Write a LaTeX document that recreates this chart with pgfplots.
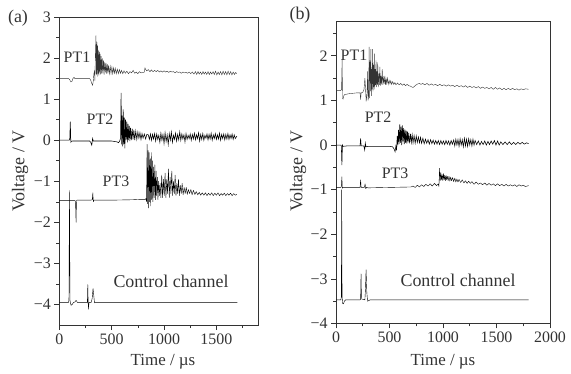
\documentclass[border=0pt]{standalone}
\usepackage{pgfplots}
\pgfplotsset{compat=1.18}
\usepackage{fontspec}
\setmainfont{Liberation Serif}
\definecolor{ink}{HTML}{333333}
\pgfplotsset{
  myax/.style={
    scale only axis, anchor=south west,
    axis line style={ink, line width=0.6pt},
    every tick/.style={ink, line width=0.6pt},
    tick align=outside, tick pos=left,
    major tick length=5bp, minor tick length=3bp,
    ticklabel style={font=\fontsize{16}{16}\selectfont, text=ink},
    cycle list={{ink, line width=0.55pt, line join=round, no marks}},
    clip=true,
  },
}
\tikzset{lab/.style={font=\fontsize{16}{16}\selectfont, text=ink}}
\begin{document}
\begin{tikzpicture}
\useasboundingbox (0,0) rectangle (571bp,374bp);
% ---------------- panel (a)
\begin{axis}[myax, at={(59.3bp,49bp)}, width=199bp, height=308bp,
  xmin=0, xmax=1900, ymin=-4.5, ymax=3,
  xtick={0,500,1000,1500}, xticklabels={0,500,1000,1500},
  minor xtick={250,750,1250,1750},
  ytick={-4,-3,-2,-1,0,1,2,3}, yticklabels={−4,−3,−2,−1,0,1,2,3},
  minor ytick={-3.5,-2.5,-1.5,-0.5,0.5,1.5,2.5}]
% PT1
\addplot coordinates {(0,1.5)(90,1.5)(100,1.47)(110,1.42)(120,1.43)(130,1.5)(140,1.53)(150,1.5)(200,1.5)(260,1.5)(290,1.5)(300,1.46)(310,1.38)(318,1.34)(325,1.45)(330,1.62)(336,1.68)(340,1.45)(345,2.1)(350,2.55)(354,1.6)(358,2.4)(362,1.55)(366,2.3)(370,1.62)(374,2.2)(378,1.58)(382,2.15)(386,1.65)(390,2.1)(395,1.6)(400,2.05)(405,1.62)(410,2.0)(416,1.63)(422,1.95)(428,1.6)(434,1.9)(440,1.65)(446,1.88)(452,1.62)(458,1.85)(464,1.63)(470,1.82)(478,1.62)(486,1.8)(494,1.63)(502,1.78)(510,1.62)(518,1.76)(526,1.63)(534,1.75)(544,1.62)(554,1.73)(564,1.62)(574,1.72)(584,1.63)(594,1.7)(606,1.62)(618,1.69)(630,1.63)(645,1.68)(660,1.62)(675,1.67)(690,1.64)(705,1.7)(720,1.63)(735,1.66)(750,1.62)(765,1.67)(780,1.64)(800,1.65)(812,1.66)(818,1.76)(825,1.72)(835,1.69)(850,1.72)(865,1.67)(880,1.71)(895,1.67)(910,1.7)(925,1.67)(940,1.7)(955,1.66)(970,1.69)(985,1.66)(1000,1.69)(1015,1.66)(1030,1.68)(1045,1.65)(1060,1.68)(1075,1.66)(1090,1.67)(1105,1.64)(1120,1.67)(1135,1.65)(1150,1.66)(1165,1.63)(1180,1.66)(1195,1.64)(1210,1.65)(1225,1.63)(1240,1.66)(1255,1.62)(1270,1.66)(1285,1.61)(1300,1.67)(1312,1.6)(1324,1.67)(1336,1.61)(1348,1.66)(1360,1.6)(1372,1.67)(1384,1.61)(1396,1.66)(1408,1.6)(1420,1.67)(1432,1.6)(1444,1.66)(1456,1.61)(1468,1.67)(1480,1.6)(1492,1.68)(1504,1.59)(1516,1.66)(1528,1.6)(1540,1.67)(1552,1.59)(1564,1.68)(1576,1.6)(1588,1.67)(1600,1.59)(1612,1.68)(1624,1.6)(1636,1.67)(1648,1.59)(1660,1.66)(1672,1.6)(1684,1.65)(1695,1.62)};
% PT2
\addplot coordinates {(0,0)(95,0)(100,0.05)(105,0.45)(110,-0.05)(115,-0.03)(125,-0.02)(200,-0.02)(290,-0.02)(300,-0.05)(310,-0.12)(318,0.04)(325,-0.02)(340,-0.02)(500,-0.02)(550,-0.04)(565,-0.06)(575,-0.03)(585,0.05)(590,1.15)(595,-0.1)(600,0.6)(605,-0.15)(610,0.75)(615,-0.1)(620,0.55)(626,-0.2)(632,0.5)(638,0.0)(644,0.45)(650,-0.05)(656,0.4)(662,0.0)(668,0.35)(674,-0.02)(680,0.3)(688,0.0)(696,0.28)(704,0.02)(712,0.25)(720,0.0)(730,0.22)(740,0.02)(750,0.2)(760,0.05)(770,0.18)(780,0.02)(790,0.16)(800,0.05)(812,0.15)(824,0.03)(836,0.14)(850,0.13)(860,0.02)(870,0.15)(880,0.0)(890,0.14)(900,0.03)(910,0.16)(920,-0.02)(930,0.15)(940,0.02)(950,0.12)(960,-0.05)(970,0.17)(980,0.0)(990,0.14)(1000,-0.08)(1010,0.18)(1020,-0.03)(1030,0.13)(1040,-0.1)(1050,0.16)(1060,0.0)(1070,0.2)(1080,-0.05)(1090,0.12)(1100,0.02)(1110,0.17)(1120,-0.02)(1130,0.14)(1140,0.01)(1150,0.2)(1160,0.0)(1170,0.15)(1180,0.03)(1190,0.13)(1200,-0.04)(1210,0.16)(1220,0.02)(1230,0.12)(1240,0.04)(1250,0.15)(1260,0.0)(1270,0.14)(1280,0.03)(1290,0.17)(1300,0.01)(1310,0.13)(1320,0.04)(1330,0.18)(1340,-0.02)(1350,0.14)(1360,0.02)(1370,0.16)(1380,0.0)(1390,0.12)(1400,0.05)(1410,0.15)(1420,0.01)(1430,0.14)(1440,0.03)(1450,0.17)(1460,0.0)(1470,0.13)(1480,0.04)(1490,0.16)(1500,0.02)(1510,0.13)(1520,0.03)(1530,0.17)(1540,0.0)(1550,0.14)(1560,0.04)(1570,0.15)(1580,0.01)(1590,0.14)(1600,0.03)(1610,0.16)(1620,0.02)(1630,0.13)(1640,0.04)(1650,0.15)(1660,0.02)(1670,0.13)(1680,0.04)(1695,0.1)};
% PT3
\addplot coordinates {(0,-1.47)(150,-1.47)(155,-1.5)(160,-2.0)(164,-1.47)(170,-1.46)(300,-1.46)(315,-1.45)(320,-1.28)(325,-1.5)(330,-1.46)(340,-1.46)(500,-1.46)(700,-1.45)(780,-1.44)(820,-1.44)(828,-1.42)(833,-1.5)(838,-0.1)(843,-1.55)(848,-0.25)(853,-1.65)(858,-0.3)(863,-1.5)(868,-0.45)(873,-1.6)(878,-0.3)(883,-1.45)(888,-0.5)(894,-1.5)(900,-0.65)(906,-1.4)(912,-0.6)(918,-1.45)(924,-0.75)(930,-1.35)(936,-0.9)(942,-1.45)(948,-1.0)(955,-1.35)(962,-1.05)(970,-1.4)(978,-0.85)(986,-1.4)(994,-0.95)(1002,-1.35)(1010,-0.8)(1018,-1.4)(1026,-0.95)(1034,-1.3)(1042,-0.7)(1050,-1.4)(1058,-0.9)(1066,-1.3)(1074,-0.75)(1082,-1.35)(1090,-1.0)(1098,-1.3)(1106,-0.85)(1114,-1.35)(1122,-1.05)(1130,-1.3)(1138,-0.95)(1146,-1.35)(1155,-1.1)(1164,-1.3)(1173,-1.05)(1182,-1.33)(1192,-1.15)(1202,-1.3)(1212,-1.15)(1222,-1.32)(1232,-1.2)(1244,-1.3)(1256,-1.2)(1268,-1.33)(1280,-1.22)(1294,-1.32)(1308,-1.25)(1322,-1.33)(1336,-1.27)(1350,-1.34)(1365,-1.28)(1380,-1.34)(1395,-1.28)(1410,-1.35)(1425,-1.29)(1440,-1.34)(1455,-1.28)(1470,-1.35)(1485,-1.29)(1500,-1.34)(1515,-1.28)(1530,-1.35)(1545,-1.3)(1560,-1.34)(1575,-1.29)(1590,-1.35)(1605,-1.3)(1620,-1.34)(1635,-1.29)(1650,-1.35)(1665,-1.3)(1680,-1.34)(1695,-1.32)};
% Control
\addplot coordinates {(0,-3.95)(88,-3.95)(92,-3.9)(97,-1.22)(102,-3.9)(112,-4.02)(124,-4.0)(135,-3.95)(150,-3.94)(160,-3.9)(166,-3.92)(172,-3.95)(260,-3.95)(268,-3.95)(272,-3.51)(277,-4.12)(284,-3.95)(305,-3.95)(314,-3.85)(322,-3.61)(328,-3.75)(336,-3.96)(345,-3.95)(1700,-3.95)};
\node[lab] at (axis cs:169,2.02) {PT1};
\node[lab] at (axis cs:388,0.51) {PT2};
\node[lab] at (axis cs:541,-1.0) {PT3};
\node[lab, font=\fontsize{18}{18}\selectfont] at (axis cs:1067,-3.44) {Control channel};
\end{axis}
% ---------------- panel (b)
\begin{axis}[myax, at={(336bp,50.5bp)}, width=214bp, height=302.5bp,
  xmin=0, xmax=2000, ymin=-4, ymax=2.78,
  xtick={0,500,1000,1500,2000}, xticklabels={0,500,1000,1500,2000},
  minor xtick={250,750,1250,1750},
  ytick={-4,-3,-2,-1,0,1,2}, yticklabels={−4,−3,−2,−1,0,1,2},
  minor ytick={-3.5,-2.5,-1.5,-0.5,0.5,1.5,2.5}]
% PT1
\addplot coordinates {(0,1.22)(45,1.22)(52,1.25)(57,1.92)(61,1.05)(66,1.03)(72,1.1)(80,1.13)(120,1.15)(200,1.17)(225,1.17)(230,1.02)(235,1.17)(250,1.18)(262,1.25)(270,1.5)(275,1.3)(282,0.98)(290,1.15)(296,1.65)(300,1.0)(305,1.1)(310,2.2)(314,1.05)(318,1.9)(322,1.2)(326,2.15)(330,1.1)(334,1.7)(338,1.25)(342,2.15)(346,1.2)(350,1.8)(354,1.3)(358,2.05)(362,1.25)(366,1.7)(370,1.35)(374,1.9)(378,1.3)(382,1.65)(386,1.35)(390,1.85)(395,1.3)(400,1.6)(405,1.35)(410,1.75)(415,1.33)(420,1.55)(426,1.36)(432,1.7)(438,1.35)(444,1.5)(450,1.37)(456,1.55)(462,1.35)(468,1.48)(474,1.38)(480,1.5)(488,1.36)(496,1.45)(504,1.37)(512,1.44)(520,1.36)(530,1.42)(540,1.36)(550,1.4)(560,1.35)(575,1.39)(590,1.35)(605,1.38)(620,1.34)(635,1.37)(650,1.33)(665,1.36)(680,1.33)(695,1.32)(710,1.3)(720,1.29)(735,1.32)(750,1.35)(765,1.37)(780,1.38)(795,1.36)(810,1.38)(830,1.35)(850,1.38)(870,1.34)(890,1.37)(910,1.34)(930,1.36)(950,1.33)(970,1.36)(990,1.33)(1010,1.35)(1030,1.32)(1050,1.35)(1070,1.32)(1090,1.34)(1110,1.31)(1130,1.34)(1150,1.31)(1170,1.33)(1190,1.3)(1210,1.33)(1230,1.29)(1250,1.32)(1270,1.29)(1290,1.31)(1310,1.28)(1330,1.31)(1350,1.27)(1370,1.3)(1390,1.27)(1410,1.29)(1430,1.26)(1450,1.29)(1470,1.25)(1490,1.29)(1510,1.25)(1530,1.28)(1550,1.24)(1570,1.27)(1590,1.24)(1610,1.27)(1630,1.24)(1650,1.27)(1670,1.24)(1690,1.26)(1710,1.23)(1730,1.26)(1750,1.24)(1770,1.26)(1800,1.25)};
% PT2
\addplot coordinates {(0,0)(45,0)(50,-0.02)(55,-0.45)(60,0.0)(66,-0.03)(100,-0.02)(225,-0.02)(230,0.15)(235,-0.02)(260,-0.02)(268,-0.11)(274,0.04)(280,-0.04)(300,-0.03)(400,-0.03)(500,-0.03)(530,-0.04)(545,-0.1)(552,-0.15)(560,-0.02)(566,-0.12)(572,0.2)(578,0.0)(584,0.34)(590,0.02)(596,0.46)(602,0.05)(608,0.42)(614,0.0)(620,0.44)(626,0.08)(632,0.38)(638,0.02)(644,0.35)(650,0.05)(656,0.32)(662,0.03)(668,0.3)(674,0.06)(680,0.27)(688,0.04)(696,0.25)(704,0.06)(712,0.23)(720,0.05)(730,0.21)(740,0.04)(750,0.2)(760,0.06)(770,0.18)(780,0.05)(790,0.17)(800,0.04)(812,0.15)(824,0.03)(836,0.13)(848,0.04)(860,0.12)(872,0.02)(884,0.12)(896,0.03)(908,0.11)(920,0.02)(932,0.1)(944,0.02)(956,0.1)(968,0.01)(980,0.1)(992,0.02)(1004,0.09)(1016,0.01)(1028,0.1)(1040,0.02)(1052,0.09)(1064,0.0)(1076,0.1)(1088,0.02)(1100,0.11)(1110,-0.02)(1120,0.13)(1130,0.0)(1140,0.12)(1150,-0.03)(1160,0.14)(1170,0.0)(1180,0.12)(1190,-0.04)(1200,0.15)(1210,-0.02)(1220,0.13)(1230,-0.03)(1240,0.14)(1250,0.0)(1260,0.12)(1270,-0.02)(1280,0.13)(1290,0.0)(1300,0.1)(1315,0.01)(1330,0.09)(1345,0.0)(1360,0.08)(1375,0.01)(1390,0.09)(1405,0.0)(1420,0.08)(1435,0.01)(1450,0.09)(1465,0.02)(1480,0.1)(1495,0.0)(1510,0.09)(1525,0.0)(1540,0.07)(1560,0.01)(1580,0.07)(1600,0.01)(1620,0.07)(1640,0.01)(1660,0.06)(1680,0.01)(1700,0.06)(1720,0.02)(1740,0.06)(1760,0.02)(1780,0.05)(1800,0.03)};
% PT3
\addplot coordinates {(0,-0.95)(45,-0.95)(50,-0.93)(55,-0.71)(59,-0.97)(65,-0.95)(225,-0.95)(230,-0.78)(235,-0.95)(265,-0.95)(272,-0.87)(278,-0.98)(285,-0.95)(300,-0.96)(500,-0.95)(700,-0.94)(720,-0.92)(740,-0.95)(760,-0.9)(780,-0.94)(800,-0.89)(820,-0.93)(840,-0.88)(860,-0.92)(880,-0.87)(900,-0.92)(920,-0.86)(940,-0.91)(955,-0.87)(962,-0.93)(968,-0.52)(974,-0.8)(980,-0.62)(986,-0.78)(992,-0.66)(998,-0.8)(1004,-0.64)(1010,-0.78)(1016,-0.68)(1022,-0.8)(1028,-0.68)(1034,-0.78)(1040,-0.7)(1048,-0.8)(1056,-0.7)(1064,-0.81)(1072,-0.72)(1080,-0.8)(1090,-0.73)(1100,-0.82)(1110,-0.74)(1120,-0.83)(1130,-0.76)(1140,-0.83)(1150,-0.77)(1165,-0.84)(1180,-0.78)(1195,-0.85)(1210,-0.8)(1225,-0.86)(1240,-0.81)(1255,-0.86)(1270,-0.82)(1290,-0.88)(1310,-0.83)(1330,-0.88)(1350,-0.85)(1370,-0.89)(1390,-0.85)(1410,-0.9)(1430,-0.86)(1450,-0.9)(1470,-0.87)(1490,-0.91)(1510,-0.87)(1530,-0.91)(1550,-0.88)(1570,-0.92)(1590,-0.88)(1610,-0.92)(1630,-0.89)(1650,-0.92)(1670,-0.89)(1690,-0.93)(1710,-0.89)(1730,-0.92)(1750,-0.9)(1770,-0.93)(1800,-0.91)};
% Control
\addplot coordinates {(0,-3.47)(45,-3.47)(50,-3.4)(53,-1.0)(57,-3.4)(62,-3.55)(70,-3.56)(78,-3.5)(90,-3.47)(225,-3.47)(230,-3.45)(234,-2.88)(238,-3.45)(270,-3.47)(276,-3.2)(281,-2.79)(288,-3.3)(295,-3.5)(302,-3.49)(320,-3.47)(1800,-3.47)};
\node[lab] at (axis cs:168,2.02) {PT1};
\node[lab] at (axis cs:393,0.63) {PT2};
\node[lab] at (axis cs:552,-0.63) {PT3};
\node[lab, font=\fontsize{18}{18}\selectfont] at (axis cs:1141,-3.03) {Control channel};
\end{axis}
% ---------------- outer labels
\node[font=\fontsize{17}{17}\selectfont, text=ink] at (163bp,12bp) {Time / µs};
\node[font=\fontsize{17}{17}\selectfont, text=ink] at (443bp,12bp) {Time / µs};
\node[rotate=90, font=\fontsize{18}{18}\selectfont, text=ink] at (20bp,203bp) {Voltage / V};
\node[rotate=90, font=\fontsize{18}{18}\selectfont, text=ink] at (298bp,203bp) {Voltage / V};
\node[font=\fontsize{18}{18}\selectfont, text=ink] at (18bp,356bp) {(a)};
\node[font=\fontsize{18}{18}\selectfont, text=ink] at (300bp,359bp) {(b)};
\end{tikzpicture}
\end{document}
